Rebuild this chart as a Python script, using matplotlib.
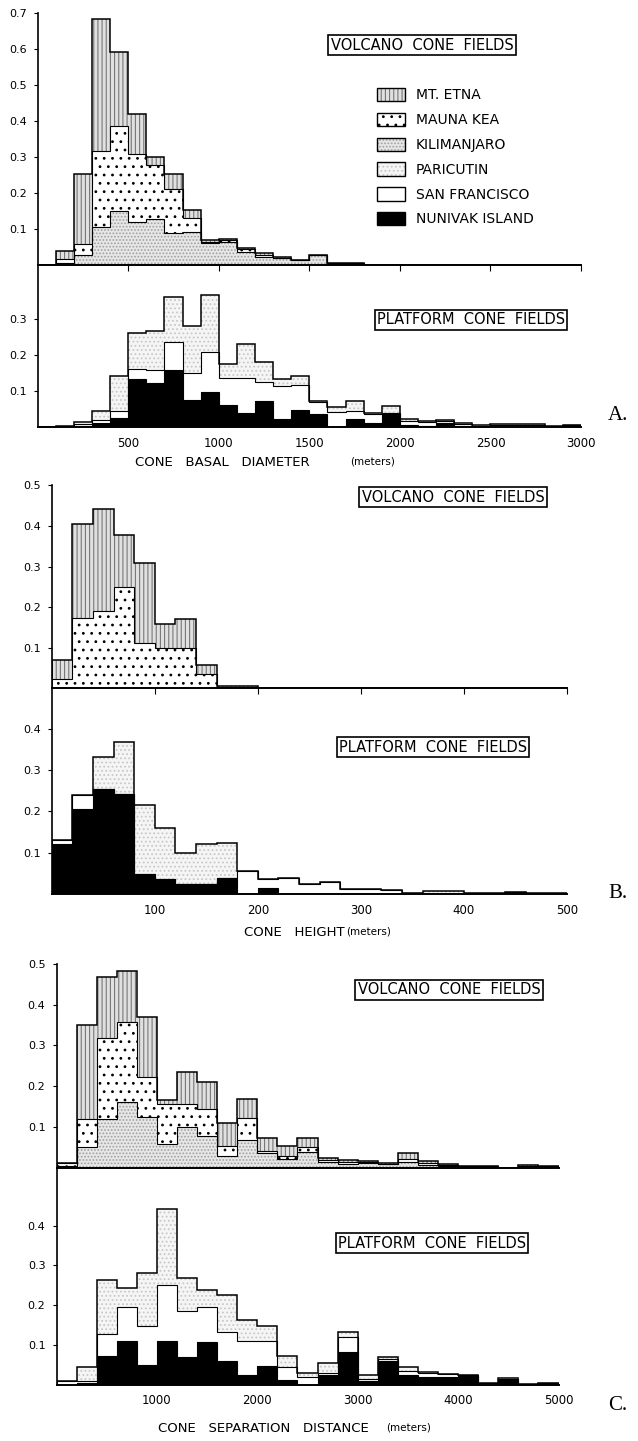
import numpy as np
import matplotlib.pyplot as plt
from matplotlib.patches import Patch

plt.rcParams['font.family'] = ['DejaVu Sans']
plt.rcParams['hatch.linewidth'] = 0.8

# ---- A. cone basal diameter, bins of 100 m ----
diam_edges = np.arange(0, 3001, 100)
diam_kilimanjaro = [0, .005, .029, .106, .150, .120, .127, .088, .092, .062, .063, .037, .022, .020, .014,
                    .027, .003, .003, 0, 0, 0, 0, 0, 0, 0, 0, 0, 0, 0, 0]
diam_mauna_kea = [0, .012, .028, .209, .235, .188, .150, .122, .038, .003, .007, .006, .006, 0, 0,
                  0, .002, .002, 0, 0, 0, 0, 0, 0, 0, 0, 0, 0, 0, 0]
diam_etna = [0, .023, .196, .367, .205, .112, .023, .043, .022, .003, .002, .004, .004, .001, 0,
             0, 0, 0, 0, 0, 0, 0, 0, 0, 0, 0, 0, 0, 0, 0]
diam_nunivak = [0, 0, .004, .011, .024, .134, .122, .159, .075, .096, .062, .039, .072, .023, .047,
                .036, 0, .023, .012, .036, .005, .003, .010, .002, 0, 0, 0, 0, 0, .005]
diam_san_francisco = [0, .003, .004, .009, .021, .027, .035, .077, .074, .112, .073, .096, .052, .091, .068,
                      .034, .042, .022, .023, .004, .011, .012, .008, .006, .004, .006, .006, .006, .002, .001]
diam_paricutin = [0, 0, .005, .025, .095, .100, .108, .125, .132, .159, .040, .096, .055, .019, .027,
                  .002, .014, .027, .005, .017, .006, .002, .002, .002, .001, .001, .001, .001, 0, 0]

# ---- B. cone height, bins of 20 m ----
height_edges = np.arange(0, 501, 20)
height_mauna_kea = [.022, .174, .190, .250, .112, .099, .099, .036, .004, .004,
                    0, 0, 0, 0, 0, 0, 0, 0, 0, 0, 0, 0, 0, 0, 0]
height_etna = [.048, .231, .252, .127, .196, .059, .071, .022, .001, .001,
               0, 0, 0, 0, 0, 0, 0, 0, 0, 0, 0, 0, 0, 0, 0]
height_nunivak = [.121, .207, .254, .242, .049, .037, .025, .025, .038, 0,
                  .015, 0, 0, 0, 0, 0, 0, 0, 0, 0, 0, 0, .005, 0, 0]
height_san_francisco = [.011, .033, 0, 0, 0, 0, 0, 0, 0, .055,
                        .022, .038, .025, .028, .012, .012, .010, .003, .001, .001, .002, .002, .001, .002, .002]
height_paricutin = [0, 0, .078, .127, .167, .123, .075, .097, .085, 0,
                    0, 0, 0, 0, 0, 0, 0, 0, .006, .006, 0, 0, 0, 0, 0]

# ---- C. cone separation distance, bins of 200 m ----
sep_edges = np.arange(0, 5001, 200)
sep_kilimanjaro = [.005, .050, .119, .160, .125, .058, .100, .078, .029, .068, .035, .022, .038,
                   .013, .008, .012, .008, .015, .006, .003, .002, .002, 0, .003, .002]
sep_mauna_kea = [.007, .070, .200, .198, .098, .097, .056, .065, .023, .053, .006, .006, .012,
                 .006, .005, .002, .002, .007, .005, .003, .002, .001, 0, .002, .002]
sep_etna = [0, .229, .148, .125, .147, .011, .079, .068, .057, .047, .033, .024, .024,
            .005, .005, .002, .001, .014, .006, .002, 0, 0, 0, .001, 0]
sep_nunivak = [0, .003, .073, .109, .048, .109, .070, .106, .059, .023, .046, .012, 0,
               .024, .081, .010, .060, .023, .020, .020, .022, 0, .012, 0, .004]
sep_san_francisco = [.010, .005, .053, .087, .100, .142, .116, .088, .072, .087, .064, .033, .018,
                     .006, .038, .004, .003, .010, .008, .006, .001, .003, .003, .002, .001]
sep_paricutin = [0, .037, .138, .046, .134, .192, .082, .044, .095, .052, .037, .028, .012,
                 .025, .012, .010, .006, .011, .003, .001, .001, 0, .002, 0, 0]

legend_names = ['MT. ETNA', 'MAUNA KEA', 'KILIMANJARO', 'PARICUTIN', 'SAN FRANCISCO', 'NUNIVAK ISLAND']

styles = {
    'MT. ETNA': dict(facecolor='#e0e0e0', edgecolor='#777777', hatch='||||'),
    'MAUNA KEA': dict(facecolor='white', edgecolor='black', hatch='..'),
    'KILIMANJARO': dict(facecolor='#e6e6e6', edgecolor='#a0a0a0', hatch='.....'),
    'PARICUTIN': dict(facecolor='#f5f5f5', edgecolor='#c8c8c8', hatch='....'),
    'SAN FRANCISCO': dict(facecolor='white', edgecolor='white', hatch=None),
    'NUNIVAK ISLAND': dict(facecolor='black', edgecolor='black', hatch=None),
}

W, H = 638, 1441
fig = plt.figure(figsize=(W / 100, H / 100), dpi=100)


def add_panel(x0, x1, y_top, y_zero, px_per_unit):
    ax = fig.add_axes([x0 / W, 1 - y_zero / H, (x1 - x0) / W, (y_zero - y_top) / H])
    ax.set_ylim(0, (y_zero - y_top) / px_per_unit)
    for s in ('top', 'right'):
        ax.spines[s].set_visible(False)
    ax.spines['left'].set_linewidth(1.2)
    ax.spines['bottom'].set_linewidth(1.4)
    ax.patch.set_alpha(0)
    return ax


def stacked(ax, edges, layers):
    bottom = np.zeros(len(edges) - 1)
    tops = []
    for name, vals in layers:
        top = bottom + np.array(vals)
        ax.stairs(top, edges, baseline=bottom, fill=True, linewidth=0, **styles[name])
        tops.append(top)
        bottom = top
    for top in tops[:-1]:
        ax.stairs(top, edges, baseline=None, color='black', linewidth=0.8)
    ax.stairs(tops[-1], edges, baseline=0, color='black', linewidth=1.1)


def yaxis(ax, ticks):
    ax.set_yticks(ticks)
    ax.set_yticklabels(['%.1f' % t for t in ticks])
    ax.tick_params(axis='y', direction='out', length=3, width=0.8, labelsize=8, pad=5)


def top_xaxis(ax, xmax, step):
    ax.set_xlim(0, xmax)
    ax.set_xticks(np.arange(step, xmax + 1, step))
    ax.tick_params(axis='x', direction='out', length=4, width=0.8, labelbottom=False)


def bottom_xaxis(ax, xmax, step):
    ax.set_xlim(0, xmax)
    ax.set_xticks(np.arange(step, xmax + 1, step))
    ax.tick_params(axis='x', length=0, labelsize=8.5, pad=7)


def boxed(x, y, s):
    fig.text(x / W, 1 - y / H, s, ha='center', va='center', fontsize=10.5,
             bbox=dict(boxstyle='square,pad=0.15', facecolor='white', edgecolor='black', linewidth=1.2))


def label(x, y, s, size=9.5):
    fig.text(x / W, 1 - y / H, s, ha='left', va='center', fontsize=size)


# ---- panel A ----
ax = add_panel(37.7, 581, 12.6, 265, 361)
stacked(ax, diam_edges, [('KILIMANJARO', diam_kilimanjaro), ('MAUNA KEA', diam_mauna_kea),
                         ('MT. ETNA', diam_etna)])
yaxis(ax, [0.1, 0.2, 0.3, 0.4, 0.5, 0.6, 0.7])
top_xaxis(ax, 3000, 500)
boxed(422, 45, 'VOLCANO  CONE  FIELDS')

handles = [(Patch(linewidth=0, **styles[n]), Patch(fill=False, edgecolor='black', linewidth=1))
           for n in legend_names]
fig.legend(handles, legend_names, loc='upper left', bbox_to_anchor=(377 / W, 1 - 88 / H),
           frameon=False, fontsize=10, handlelength=2.0, handleheight=1.1, labelspacing=0.75,
           handletextpad=0.8, borderpad=0, borderaxespad=0)

ax = add_panel(37.7, 581, 265, 427, 361)
stacked(ax, diam_edges, [('NUNIVAK ISLAND', diam_nunivak), ('SAN FRANCISCO', diam_san_francisco),
                         ('PARICUTIN', diam_paricutin)])
yaxis(ax, [0.1, 0.2, 0.3])
bottom_xaxis(ax, 3000, 500)
boxed(471, 320, 'PLATFORM  CONE  FIELDS')
label(135, 462, 'CONE   BASAL   DIAMETER')
label(350, 462, '(meters)', 7.5)
fig.text(618 / W, 1 - 415 / H, 'A.', family='Liberation Serif', fontsize=15, ha='center', va='center')

# ---- panel B ----
ax = add_panel(51.7, 567, 485.3, 688.3, 406)
stacked(ax, height_edges, [('MAUNA KEA', height_mauna_kea), ('MT. ETNA', height_etna)])
yaxis(ax, [0.1, 0.2, 0.3, 0.4, 0.5])
top_xaxis(ax, 500, 100)
boxed(453, 497, 'VOLCANO  CONE  FIELDS')

ax = add_panel(51.7, 567, 688.3, 894, 412.5)
stacked(ax, height_edges, [('NUNIVAK ISLAND', height_nunivak), ('SAN FRANCISCO', height_san_francisco),
                           ('PARICUTIN', height_paricutin)])
yaxis(ax, [0.1, 0.2, 0.3, 0.4])
bottom_xaxis(ax, 500, 100)
boxed(433, 747, 'PLATFORM  CONE  FIELDS')
label(244, 932, 'CONE   HEIGHT')
label(346, 932, '(meters)', 7.5)
fig.text(618 / W, 1 - 893 / H, 'B.', family='Liberation Serif', fontsize=15, ha='center', va='center')

# ---- panel C ----
ax = add_panel(56.5, 558.5, 963.7, 1167.7, 408)
stacked(ax, sep_edges, [('KILIMANJARO', sep_kilimanjaro), ('MAUNA KEA', sep_mauna_kea),
                        ('MT. ETNA', sep_etna)])
yaxis(ax, [0.1, 0.2, 0.3, 0.4, 0.5])
ax.set_xlim(0, 5000)
ax.set_xticks([])
boxed(449, 990, 'VOLCANO  CONE  FIELDS')

ax = add_panel(56.5, 558.5, 1167.7, 1384.5, 397)
stacked(ax, sep_edges, [('NUNIVAK ISLAND', sep_nunivak), ('SAN FRANCISCO', sep_san_francisco),
                        ('PARICUTIN', sep_paricutin)])
yaxis(ax, [0.1, 0.2, 0.3, 0.4])
bottom_xaxis(ax, 5000, 1000)
boxed(432, 1243, 'PLATFORM  CONE  FIELDS')
label(158, 1428, 'CONE   SEPARATION   DISTANCE')
label(386, 1428, '(meters)', 7.5)
fig.text(618 / W, 1 - 1405 / H, 'C.', family='Liberation Serif', fontsize=15, ha='center', va='center')

fig.savefig('out.png', dpi=100)
